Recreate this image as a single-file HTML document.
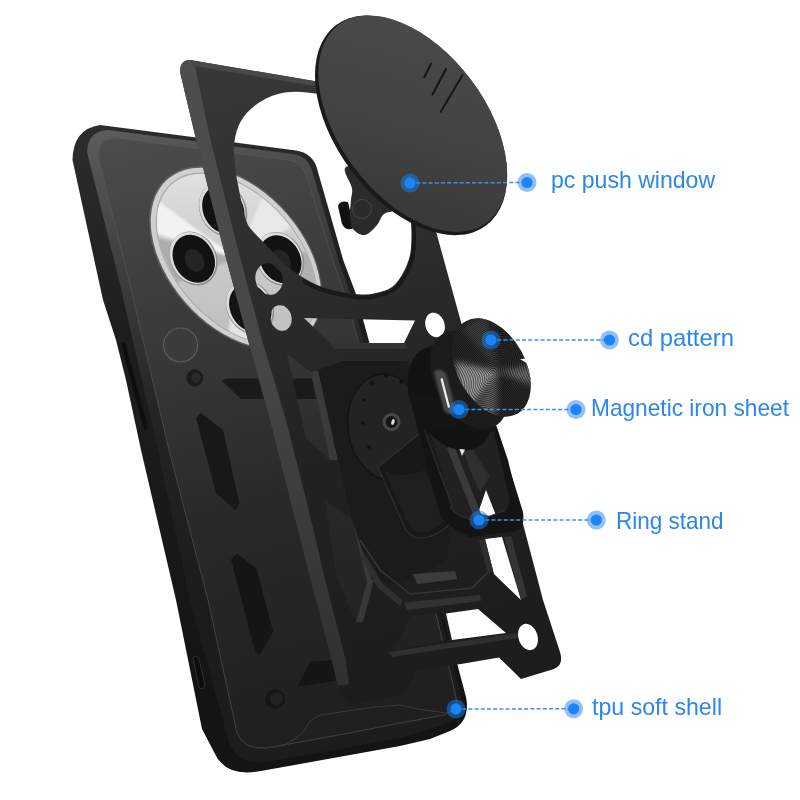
<!DOCTYPE html>
<html lang="en">
<head>
<meta charset="utf-8">
<title>Phone case structure</title>
<style>
html,body{margin:0;padding:0;background:#fff;}
body{width:800px;height:800px;overflow:hidden;position:relative;font-family:"Liberation Sans","Noto Sans CJK SC",sans-serif;}
#art{position:absolute;left:0;top:0;width:800px;height:800px;display:block;}
.lbl{position:absolute;color:#2b86ee;font-size:24px;line-height:30px;white-space:nowrap;transform-origin:0 50%;}
</style>
</head>
<body>
<svg id="art" width="800" height="800" viewBox="0 0 800 800">
<defs>
  <linearGradient id="gPanel" gradientUnits="userSpaceOnUse" x1="150" y1="130" x2="330" y2="760">
    <stop offset="0" stop-color="#4c4c4c"/>
    <stop offset="0.3" stop-color="#3a3a3a"/>
    <stop offset="0.6" stop-color="#292929"/>
    <stop offset="1" stop-color="#1e1e1e"/>
  </linearGradient>
  <linearGradient id="gBevel" gradientUnits="userSpaceOnUse" x1="90" y1="130" x2="200" y2="600">
    <stop offset="0" stop-color="#5c5c5c"/>
    <stop offset="0.3" stop-color="#3e3e3e"/>
    <stop offset="0.6" stop-color="#242424"/>
    <stop offset="1" stop-color="#1c1c1c"/>
  </linearGradient>
  <linearGradient id="gShell" gradientUnits="userSpaceOnUse" x1="80" y1="130" x2="200" y2="700">
    <stop offset="0" stop-color="#2d2d2d"/>
    <stop offset="0.35" stop-color="#1e1e1e"/>
    <stop offset="1" stop-color="#141414"/>
  </linearGradient>
  <radialGradient id="gDot">
    <stop offset="0" stop-color="#1a82f7"/>
    <stop offset="0.56" stop-color="#1a82f7"/>
    <stop offset="0.62" stop-color="#86b8f3"/>
    <stop offset="1" stop-color="#9cc4f4"/>
  </radialGradient>
  <linearGradient id="gCam" gradientUnits="userSpaceOnUse" x1="160" y1="190" x2="310" y2="330">
    <stop offset="0" stop-color="#e6e6e6"/>
    <stop offset="0.5" stop-color="#cacaca"/>
    <stop offset="1" stop-color="#bcbcbc"/>
  </linearGradient>
  <linearGradient id="gDisc" gradientUnits="userSpaceOnUse" x1="340" y1="40" x2="470" y2="210">
    <stop offset="0" stop-color="#4a4a4a"/>
    <stop offset="0.6" stop-color="#424242"/>
    <stop offset="1" stop-color="#383838"/>
  </linearGradient>
  <linearGradient id="gFrame" gradientUnits="userSpaceOnUse" x1="250" y1="60" x2="420" y2="700">
    <stop offset="0" stop-color="#373737"/>
    <stop offset="0.35" stop-color="#2c2c2c"/>
    <stop offset="0.6" stop-color="#222"/>
    <stop offset="1" stop-color="#1c1c1c"/>
  </linearGradient>
  <linearGradient id="gStrut" gradientUnits="userSpaceOnUse" x1="190" y1="60" x2="340" y2="690">
    <stop offset="0" stop-color="#4e4e4e"/>
    <stop offset="0.45" stop-color="#474747"/>
    <stop offset="0.75" stop-color="#3a3a3a"/>
    <stop offset="1" stop-color="#303030"/>
  </linearGradient>
  <radialGradient id="gGroove" gradientUnits="userSpaceOnUse" cx="0" cy="0" r="2.4" spreadMethod="repeat" gradientTransform="translate(498 371) rotate(61) scale(1 0.64)">
    <stop offset="0" stop-color="#000" stop-opacity="0.55"/>
    <stop offset="0.5" stop-color="#000" stop-opacity="0"/>
    <stop offset="1" stop-color="#000" stop-opacity="0.55"/>
  </radialGradient>
  <clipPath id="cpCam"><ellipse cx="236.7" cy="258.5" rx="98.6" ry="61.8" transform="rotate(49 236.7 258.5)"/></clipPath>
  <clipPath id="cpMag"><ellipse cx="491.5" cy="367.5" rx="53" ry="34" transform="rotate(61 491.5 367.5)"/></clipPath>
  <filter id="blur3" x="-20%" y="-20%" width="140%" height="140%"><feGaussianBlur stdDeviation="3"/></filter>
  <filter id="blur1" x="-20%" y="-20%" width="140%" height="140%"><feGaussianBlur stdDeviation="1.2"/></filter>
</defs>
<g id="phone">
<path fill="url(#gShell)" d="M72.5,160 Q73,129 100,125 L296,150.5 Q314,153 318,172 L343.5,261 L356,294 L444,614 L466,697 Q471,722 450,731 L430,739 L400,746 L350,755 L300,764 L258,771.5 Q225,777 214,752 L202,729 L176,600 L141,450 L126,380 L116,340 L103,300 Z"/>
<path fill="url(#gBevel)" d="M87,152 Q88,131 108,130 L293,154 Q309,156 313,174 L339,262 L351,296 L440,614 L461,697 Q465,716 446,724 L400,738 L350,747 L300,756 L266,762 Q238,766 229,742 L190,600 L158,450 L119,280 Z"/>
<path fill="url(#gPanel)" stroke="#5a5a5a" stroke-opacity="0.6" stroke-width="1" d="M98,156 Q99,138 116,138 L288,160 Q303,162 307,178 L334,264 L346,298 L436,614 L456,697 Q459,709 444,715 L400,723 L350,733 L300,742 L266,748 Q244,750 237,733 L208,600 L169,450 L130,285 Z"/>
<path fill="#1a1a1a" d="M221,380 L228,378.5 L312,378.5 L316,399 L241,399 Z"/>
<path fill="#181818" d="M196,418 L201,413 L223,430 L239.5,503.5 L235.5,510.5 L216,493 Z"/>
<path fill="#151515" d="M231,559.5 L237,553.5 L256.5,568.5 L273,631.5 L259.5,655.5 L255,651 Z"/>
<path fill="#151515" d="M310,662 L335,659.5 L340,680 L297,687 Z"/>
<path fill="#0c0c0c" stroke="#303030" stroke-width="1" d="M193,658 Q196,654 199,659 L205,686 Q202,691 199,687 Z"/>
<path fill="#0e0e0e" d="M121,343 L125,342 L148,428 L144,430 Z"/>
<circle cx="275" cy="699" r="10" fill="#161616"/><circle cx="276.5" cy="699" r="6.5" fill="#222"/>
<path fill="none" stroke="#3a3a3a" stroke-width="1" d="M266,748 L285,745 L302,734 L310,721 L320,715 L375,707 L400,705 L418,709 L446,713"/>
</g>
<g id="camera">
<ellipse cx="235.6" cy="257.7" rx="105.6" ry="68.7" transform="rotate(49 235.6 257.7)" fill="#5e5e5e"/>
<ellipse cx="235.9" cy="257.9" rx="104.2" ry="67.3" transform="rotate(49 235.9 257.9)" fill="#d0d0d0"/>
<ellipse cx="236.5" cy="258.3" rx="99.6" ry="62.8" transform="rotate(49 236.5 258.3)" fill="#a9a9a9"/>
<ellipse cx="236.7" cy="258.5" rx="98.6" ry="61.8" transform="rotate(49 236.7 258.5)" fill="url(#gCam)"/>
<g clip-path="url(#cpCam)"><g filter="url(#blur1)">
<path fill="#f2f2f2" d="M236,258 L150,195 L150,232 Z"/>
<path fill="#adadad" d="M236,258 L150,236 L160,290 Z"/>
<path fill="#e4e4e4" d="M236,258 L226,360 L276,360 Z"/>
<path fill="#b0b0b0" d="M236,258 L330,250 L320,300 Z"/>
<path fill="#e8e8e8" d="M236,258 L274,170 L318,212 Z"/>
</g></g>
<ellipse cx="193.5" cy="258.5" rx="28" ry="23" transform="rotate(62 193.5 258.5)" fill="#8e8e8e"/>
<ellipse cx="192.9" cy="257.9" rx="27" ry="22" transform="rotate(62 192.9 257.9)" fill="#dcdcdc"/>
<ellipse cx="193.8" cy="258.8" rx="25" ry="20" transform="rotate(62 193.8 258.8)" fill="#121212"/>
<ellipse cx="194.5" cy="260.5" rx="12" ry="9" transform="rotate(62 194.5 260.5)" fill="#242424"/>
<ellipse cx="223" cy="209.5" rx="28" ry="23" transform="rotate(62 223 209.5)" fill="#8e8e8e"/>
<ellipse cx="222.4" cy="208.9" rx="27" ry="22" transform="rotate(62 222.4 208.9)" fill="#dcdcdc"/>
<ellipse cx="223.3" cy="209.8" rx="25" ry="20" transform="rotate(62 223.3 209.8)" fill="#121212"/>
<ellipse cx="224" cy="211.5" rx="12" ry="9" transform="rotate(62 224 211.5)" fill="#242424"/>
<ellipse cx="280" cy="259" rx="28" ry="23" transform="rotate(62 280 259)" fill="#8e8e8e"/>
<ellipse cx="279.4" cy="258.4" rx="27" ry="22" transform="rotate(62 279.4 258.4)" fill="#dcdcdc"/>
<ellipse cx="280.3" cy="259.3" rx="25" ry="20" transform="rotate(62 280.3 259.3)" fill="#121212"/>
<ellipse cx="281" cy="261" rx="12" ry="9" transform="rotate(62 281 261)" fill="#242424"/>
<ellipse cx="250" cy="307.5" rx="28" ry="23" transform="rotate(62 250 307.5)" fill="#8e8e8e"/>
<ellipse cx="249.4" cy="306.9" rx="27" ry="22" transform="rotate(62 249.4 306.9)" fill="#dcdcdc"/>
<ellipse cx="250.3" cy="307.8" rx="25" ry="20" transform="rotate(62 250.3 307.8)" fill="#121212"/>
<ellipse cx="251" cy="309.5" rx="12" ry="9" transform="rotate(62 251 309.5)" fill="#242424"/>
<circle cx="180.6" cy="345" r="17" fill="#3b3b3b" stroke="#5c5c5c" stroke-width="1.2"/>
<circle cx="194.7" cy="378" r="8.5" fill="#1b1b1b"/><circle cx="196" cy="377.5" r="5" fill="#2a2a2a"/>
</g>
<g id="frame">
<path fill-rule="evenodd" fill="url(#gFrame)" d="M180,72 Q180,60 190,60 L314,81 L398,95 L437,235 L461,322 L508,460 L522,520 L543,600 L560,652 Q564,665 554,669 L521,679 L499,657.6 L461,664 L415,670 Q410,690 399,695 L357,704 Q342,705 338,686 L331.7,660 L310.7,580 L306,562 L290.3,500 L270,420 L248,340 L221.2,240 L206.2,180 L196.2,140 Z M307.0,92.5 C295.8,91.2 286.7,91.8 278.0,94.0 C269.3,96.2 261.2,100.9 255.0,105.5 C248.8,110.1 244.0,115.8 240.6,121.7 C237.2,127.6 235.5,134.6 234.5,141.0 C233.5,147.4 233.9,152.7 234.5,160.0 C235.1,167.3 236.1,175.0 238.0,185.0 C239.9,195.0 243.4,212.2 246.0,220.0 C248.6,227.8 250.0,227.7 253.5,232.0 C257.0,236.3 261.8,240.6 267.0,246.0 C272.2,251.4 279.0,259.2 285.0,264.5 C291.0,269.8 297.2,273.9 303.0,277.5 C308.8,281.1 313.8,283.7 320.0,286.0 C326.2,288.3 333.3,290.1 340.0,291.5 C346.7,292.9 354.0,294.2 360.0,294.5 C366.0,294.8 370.7,294.2 376.0,293.0 C381.3,291.8 387.5,290.3 392.0,287.0 C396.5,283.7 400.0,278.3 403.0,273.0 C406.0,267.7 408.6,261.3 410.0,255.0 C411.4,248.7 411.3,241.7 411.5,235.0 C411.7,228.3 411.6,224.2 411.0,215.0 C410.4,205.8 411.5,193.3 408.0,180.0 C404.5,166.7 400.5,148.0 390.0,135.0 C379.5,122.0 358.8,109.1 345.0,102.0 C331.2,94.9 318.2,93.8 307.0,92.5 Z M304.0,318.0 L415.0,320.5 L404.0,343.0 L330.0,343.0 Z M282.0,275.5 C282.4,276.8 282.6,278.3 282.7,279.6 C282.7,281.0 282.6,282.4 282.4,283.7 C282.1,285.0 281.7,286.3 281.1,287.5 C280.6,288.6 279.9,289.7 279.1,290.6 C278.3,291.6 277.4,292.4 276.4,293.0 C275.4,293.7 274.3,294.2 273.1,294.5 C272.0,294.8 270.8,294.9 269.6,294.8 C268.4,294.8 267.2,294.5 266.1,294.1 C264.9,293.7 263.8,293.1 262.7,292.4 C261.7,291.7 260.6,290.8 259.8,289.8 C258.9,288.7 258.1,287.6 257.5,286.4 C256.8,285.2 256.3,283.8 256.0,282.5 C255.6,281.2 255.4,279.7 255.3,278.4 C255.3,277.0 255.4,275.6 255.6,274.3 C255.9,273.0 256.3,271.7 256.9,270.5 C257.4,269.4 258.1,268.3 258.9,267.4 C259.7,266.4 260.6,265.6 261.6,265.0 C262.6,264.3 263.7,263.8 264.9,263.5 C266.0,263.2 267.2,263.1 268.4,263.2 C269.6,263.2 270.8,263.5 271.9,263.9 C273.1,264.3 274.2,264.9 275.3,265.6 C276.3,266.3 277.4,267.2 278.2,268.2 C279.1,269.3 279.9,270.4 280.5,271.6 C281.2,272.8 281.7,274.2 282.0,275.5 Z M291.1,315.3 C291.4,316.4 291.6,317.5 291.7,318.6 C291.7,319.7 291.7,320.9 291.5,321.9 C291.3,323.0 291.0,324.0 290.6,325.0 C290.1,325.9 289.6,326.8 289.0,327.5 C288.4,328.3 287.6,328.9 286.9,329.4 C286.1,329.9 285.2,330.3 284.4,330.6 C283.5,330.8 282.5,330.9 281.6,330.8 C280.7,330.8 279.7,330.6 278.8,330.2 C277.9,329.9 277.0,329.4 276.2,328.8 C275.4,328.2 274.6,327.5 273.9,326.6 C273.2,325.8 272.6,324.9 272.1,323.9 C271.6,322.9 271.1,321.8 270.9,320.7 C270.6,319.6 270.4,318.5 270.3,317.4 C270.3,316.3 270.3,315.1 270.5,314.1 C270.7,313.0 271.0,312.0 271.4,311.0 C271.9,310.1 272.4,309.2 273.0,308.5 C273.6,307.7 274.4,307.1 275.1,306.6 C275.9,306.1 276.8,305.7 277.6,305.4 C278.5,305.2 279.5,305.1 280.4,305.2 C281.3,305.2 282.3,305.4 283.2,305.8 C284.1,306.1 285.0,306.6 285.8,307.2 C286.6,307.8 287.4,308.5 288.1,309.4 C288.8,310.2 289.4,311.1 289.9,312.1 C290.4,313.1 290.9,314.2 291.1,315.3 Z M444.0,322.1 C444.4,323.1 444.6,324.2 444.7,325.2 C444.8,326.3 444.9,327.4 444.8,328.4 C444.7,329.4 444.4,330.4 444.1,331.3 C443.8,332.2 443.4,333.1 442.9,333.8 C442.4,334.6 441.7,335.2 441.1,335.7 C440.4,336.2 439.6,336.6 438.9,336.9 C438.1,337.1 437.2,337.3 436.4,337.2 C435.6,337.2 434.7,337.1 433.8,336.8 C433.0,336.5 432.1,336.0 431.3,335.5 C430.6,334.9 429.8,334.2 429.1,333.5 C428.4,332.7 427.8,331.8 427.3,330.9 C426.7,330.0 426.3,329.0 426.0,327.9 C425.6,326.9 425.4,325.8 425.3,324.8 C425.2,323.7 425.1,322.6 425.2,321.6 C425.3,320.6 425.6,319.6 425.9,318.7 C426.2,317.8 426.6,316.9 427.1,316.2 C427.6,315.4 428.3,314.8 428.9,314.3 C429.6,313.8 430.4,313.4 431.1,313.1 C431.9,312.9 432.8,312.7 433.6,312.8 C434.4,312.8 435.3,312.9 436.2,313.2 C437.0,313.5 437.9,314.0 438.7,314.5 C439.4,315.1 440.2,315.8 440.9,316.5 C441.6,317.3 442.2,318.2 442.7,319.1 C443.3,320.0 443.7,321.0 444.0,322.1 Z M287.0,354.0 L311.0,372.0 L330.0,460.0 L306.0,438.0 Z M325.0,500.0 L352.0,520.0 L367.0,582.0 L356.0,622.0 L336.0,575.0 Z M486.0,490.0 L478.0,513.0 L497.0,518.0 Z M485.0,539.0 L502.0,537.0 L521.0,600.0 L494.0,574.0 Z M446.0,613.5 L478.0,609.0 L506.0,633.0 L452.0,640.0 Z M537.0,634.1 C537.4,635.2 537.7,636.4 537.8,637.5 C538.0,638.6 538.0,639.8 537.9,640.9 C537.8,642.0 537.6,643.0 537.3,644.0 C537.0,645.0 536.6,645.9 536.1,646.7 C535.6,647.4 535.0,648.1 534.4,648.6 C533.7,649.2 533.0,649.6 532.2,649.8 C531.4,650.1 530.5,650.2 529.7,650.2 C528.8,650.1 528.0,649.9 527.1,649.6 C526.2,649.3 525.4,648.8 524.6,648.2 C523.8,647.6 523.0,646.8 522.3,646.0 C521.6,645.1 520.9,644.2 520.4,643.2 C519.8,642.2 519.3,641.0 519.0,639.9 C518.6,638.8 518.3,637.6 518.2,636.5 C518.0,635.4 518.0,634.2 518.1,633.1 C518.2,632.0 518.4,631.0 518.7,630.0 C519.0,629.0 519.4,628.1 519.9,627.3 C520.4,626.6 521.0,625.9 521.6,625.4 C522.3,624.8 523.0,624.4 523.8,624.2 C524.6,623.9 525.5,623.8 526.3,623.8 C527.2,623.9 528.0,624.1 528.9,624.4 C529.8,624.7 530.6,625.2 531.4,625.8 C532.2,626.4 533.0,627.2 533.7,628.0 C534.4,628.9 535.1,629.8 535.6,630.8 C536.2,631.8 536.7,633.0 537.0,634.1 Z M410.0,616.0 L443.0,612.0 L449.0,640.0 L392.0,650.0 L400.0,640.0 Z"/>
<path fill="url(#gStrut)" d="M180,72 Q180,60 190,60 L194,62 L210.5,140 L220.5,180 L235.5,240 L262,340 L286,420 L306.3,500 L325.2,580 L345.7,660 L349,684 L338,686 L331.7,660 L310.7,580 L306,562 L290.3,500 L270,420 L248,340 L221.2,240 L206.2,180 L196.2,140 Z"/>
<path fill="#484848" d="M190,60 L314,81 L314,86 L194,66 Z"/>
<path fill="#3a3a3a" d="M311,372 L318,370 L338,460 L330,460 Z"/>
<path fill="#343434" d="M330,343 L404,343 L407,349 L334,349 Z"/>
<path fill="#383838" d="M352,520 L359,517 L374,580 L363,622 L356,622 L367,582 Z"/>
<path fill="#1b1b1b" d="M343,361 L407,361 L412,372 L452,505 L447,560 L400,585 L372,580 L352,520 L338,460 L318,370 Z"/>
<ellipse cx="387" cy="427" rx="39" ry="53" transform="rotate(-8 387 427)" fill="#232323" stroke="#141414" stroke-width="1.5"/>
<circle cx="391.5" cy="422" r="7.5" fill="#151515" stroke="#484848" stroke-width="3"/>
<ellipse cx="393" cy="422" rx="1.6" ry="3" fill="#ddd" transform="rotate(20 393 422)"/>
<circle cx="372" cy="383" r="1.8" fill="#0d0d0d"/>
<circle cx="386" cy="376" r="1.8" fill="#0d0d0d"/>
<circle cx="401" cy="382" r="1.8" fill="#0d0d0d"/>
<circle cx="364" cy="400" r="1.8" fill="#0d0d0d"/>
<circle cx="363" cy="423" r="1.8" fill="#0d0d0d"/>
<circle cx="369" cy="447" r="1.8" fill="#0d0d0d"/>
<circle cx="400" cy="470" r="1.8" fill="#0d0d0d"/>
<circle cx="420" cy="466" r="1.8" fill="#0d0d0d"/>
<path fill="#181818" stroke="#303030" stroke-width="1.2" d="M378,467 L406,530 Q420,548 448,526 L452,505 L424,430 Z"/>
<path fill="#1f1f1f" d="M384,470 Q400,480 425,470 L446,520 Q425,540 410,528 Z"/>
<path fill="none" stroke="#353535" stroke-width="1.6" d="M360,540 L380,570 L410,594 L472,588 L488,572 L480,540"/>
<path fill="#303030" d="M360,556 L364,553 L382,583 L402,600 L400,606 L378,588 Z"/>
<path fill="#2e2e2e" d="M480,540 L485,539 L493,571 L488,574 Z"/>
<path fill="#3c3c3c" d="M412.5,574 L455,571 L457.5,579 L417.5,584 Z"/>
<path fill="#323232" d="M404,602.5 L480,595 L481,601 L407.5,610 Z"/>
<path fill="#2f2f2f" d="M388,652 L517,633 L518,638 L392,657 Z"/>
<path fill="#353535" d="M504,537 L511,536 L527,596 L521,600 Z"/>
<path fill="#2e2e2e" d="M462,447 L470,446 L490,476 L484,486 Z"/>
<path fill="none" stroke="#191919" stroke-width="4" d="M413.0,221.0 C413.2,224.0 414.1,233.0 414.0,239.0 C413.9,245.0 413.9,251.0 412.5,257.0 C411.1,263.0 408.6,269.6 405.5,275.0 C402.4,280.4 398.8,286.0 394.0,289.5 C389.2,293.0 382.5,294.7 377.0,296.0 C371.5,297.3 367.0,297.8 361.0,297.5 C355.0,297.2 347.9,295.9 341.0,294.5 C334.1,293.1 325.9,291.3 319.5,289.0 C313.1,286.7 305.3,281.9 302.5,280.5 "/>
</g>
<g id="ring">
<path fill="#3a3a3a" d="M447,448 L454,446 L481,514 L474,517 Z"/>
<path fill="#303030" d="M462,447 L488,476 L480,492 L470,470 Z"/>
<ellipse cx="450.5" cy="398" rx="56" ry="38" transform="rotate(61 450.5 398)" fill="#121212"/>
<path fill="#e8e8e8" d="M459.5,449 L465,449.5 L462,456 Z"/>
<path fill-rule="evenodd" fill="#141414" d="M408,392 L440,514 Q445,526 470,537 L517,531 Q525,528 523,512 L497,428 L455,400 Z M424,430 L450,507 Q458,518 477,521 L506,510 Q511,506 509,496 L494,432 Z"/>
<path fill="none" stroke="#2e2e2e" stroke-width="1.2" d="M450,507 Q458,518 477,521 L506,510"/>
<ellipse cx="469" cy="380" rx="53" ry="34" transform="rotate(61 469 380)" fill="#1b1b1b"/>
<path fill="#1b1b1b" d="M452,346 L430,360 L480,428 L504,417 Z"/>
<path fill="#4a4a4a" filter="url(#blur1)" d="M434,372 Q440,366 446,374 L456,410 Q450,418 444,410 Z"/>
<path fill="#f0f0f0" d="M440.5,379 L442.5,378 L450,407 L448,408 Z"/>
<ellipse cx="491.5" cy="367.5" rx="53" ry="34" transform="rotate(61 491.5 367.5)" fill="#2c2c2c"/>
<g clip-path="url(#cpMag)"><g filter="url(#blur3)">
<path fill="#a8a8a8" d="M498,371 L455,362 L458,384 L470,408 Z"/>
<path fill="#6a6a6a" d="M498,371 L474,412 L496,418 Z"/>
<path fill="#7c7c7c" d="M498,371 L532,366 L534,386 Z"/>
<path fill="#484848" d="M498,371 L462,328 L486,314 Z"/>
</g>
<ellipse cx="491.5" cy="367.5" rx="53" ry="34" transform="rotate(61 491.5 367.5)" fill="url(#gGroove)"/>
</g>
<path fill="#fff" d="M520,359 L531,358.5 L528,364 Z"/>
</g>
<g id="disc">
<path fill="#111" d="M338,206 Q340,200 348,202 L354,228 Q346,232 342,224 Z"/>
<path fill="#2b2b2b" d="M346.0,167.0 C341.3,170.0 351.2,182.5 352.0,188.0 C352.8,193.5 351.3,195.5 351.0,200.0 C350.7,204.5 349.7,210.2 350.0,215.0 C350.3,219.8 350.5,225.7 353.0,229.0 C355.5,232.3 361.0,235.7 365.0,235.0 C369.0,234.3 373.8,228.5 377.0,225.0 C380.2,221.5 380.2,217.3 384.0,214.0 C387.8,210.7 400.7,212.3 400.0,205.0 C399.3,197.7 389.0,176.3 380.0,170.0 C371.0,163.7 350.7,164.0 346.0,167.0 Z"/>
<circle cx="362" cy="209" r="9.5" fill="none" stroke="#4a4a4a" stroke-width="1"/>
<ellipse cx="411.1" cy="125.3" rx="125.2" ry="75" transform="rotate(53.2 411.1 125.3)" fill="#1a1a1a"/>
<ellipse cx="412.7" cy="123.7" rx="123.6" ry="73.1" transform="rotate(53.2 412.7 123.7)" fill="url(#gDisc)"/>
<g stroke="#151515" stroke-width="2" stroke-linecap="round"><line x1="431" y1="63.7" x2="424.3" y2="77.2"/><line x1="446" y1="69" x2="432.5" y2="94.5"/><line x1="462.5" y1="75" x2="440.8" y2="111.7"/></g>
</g>
<g id="leaders" stroke="#3b8ff0" stroke-width="1.5" stroke-dasharray="4 2.2" fill="none">
<line x1="410" y1="183" x2="527" y2="182.5"/>
<line x1="491" y1="340" x2="609.5" y2="340"/>
<line x1="459" y1="409.5" x2="576" y2="409.5"/>
<line x1="479" y1="520" x2="596.3" y2="520"/>
<line x1="456" y1="709" x2="573.7" y2="708.8"/>
</g><g id="dots">
<circle cx="410" cy="183" r="9.5" fill="#1a7ef2" fill-opacity="0.5"/><circle cx="410" cy="183" r="5.6" fill="#1a84fa"/>
<circle cx="527" cy="182.5" r="9.5" fill="#2a7fe6" fill-opacity="0.5"/><circle cx="527" cy="182.5" r="5.6" fill="#1a84fa"/>
<circle cx="491" cy="340" r="9.5" fill="#1a7ef2" fill-opacity="0.5"/><circle cx="491" cy="340" r="5.6" fill="#1a84fa"/>
<circle cx="609.5" cy="340" r="9.5" fill="#2a7fe6" fill-opacity="0.5"/><circle cx="609.5" cy="340" r="5.6" fill="#1a84fa"/>
<circle cx="459" cy="409.5" r="9.5" fill="#1a7ef2" fill-opacity="0.5"/><circle cx="459" cy="409.5" r="5.6" fill="#1a84fa"/>
<circle cx="576" cy="409.5" r="9.5" fill="#2a7fe6" fill-opacity="0.5"/><circle cx="576" cy="409.5" r="5.6" fill="#1a84fa"/>
<circle cx="479" cy="520" r="9.5" fill="#1a7ef2" fill-opacity="0.5"/><circle cx="479" cy="520" r="5.6" fill="#1a84fa"/>
<circle cx="596.3" cy="520" r="9.5" fill="#2a7fe6" fill-opacity="0.5"/><circle cx="596.3" cy="520" r="5.6" fill="#1a84fa"/>
<circle cx="456" cy="709" r="9.5" fill="#1a7ef2" fill-opacity="0.5"/><circle cx="456" cy="709" r="5.6" fill="#1a84fa"/>
<circle cx="573.7" cy="708.8" r="9.5" fill="#2a7fe6" fill-opacity="0.5"/><circle cx="573.7" cy="708.8" r="5.6" fill="#1a84fa"/>
</g>
</svg>

<div class="lbl" id="l1" style="left:550.8px;top:165.4px;transform:scaleX(0.961);">pc push window</div>
<div class="lbl" id="l2" style="left:627.6px;top:323.3px;transform:scaleX(0.992);">cd pattern</div>
<div class="lbl" id="l3" style="left:591px;top:392.8px;transform:scaleX(0.945);">Magnetic iron sheet</div>
<div class="lbl" id="l4" style="left:615.5px;top:505.6px;transform:scaleX(0.938);">Ring stand</div>
<div class="lbl" id="l5" style="left:592px;top:692.2px;transform:scaleX(0.965);">tpu soft shell</div>
</body>
</html>
